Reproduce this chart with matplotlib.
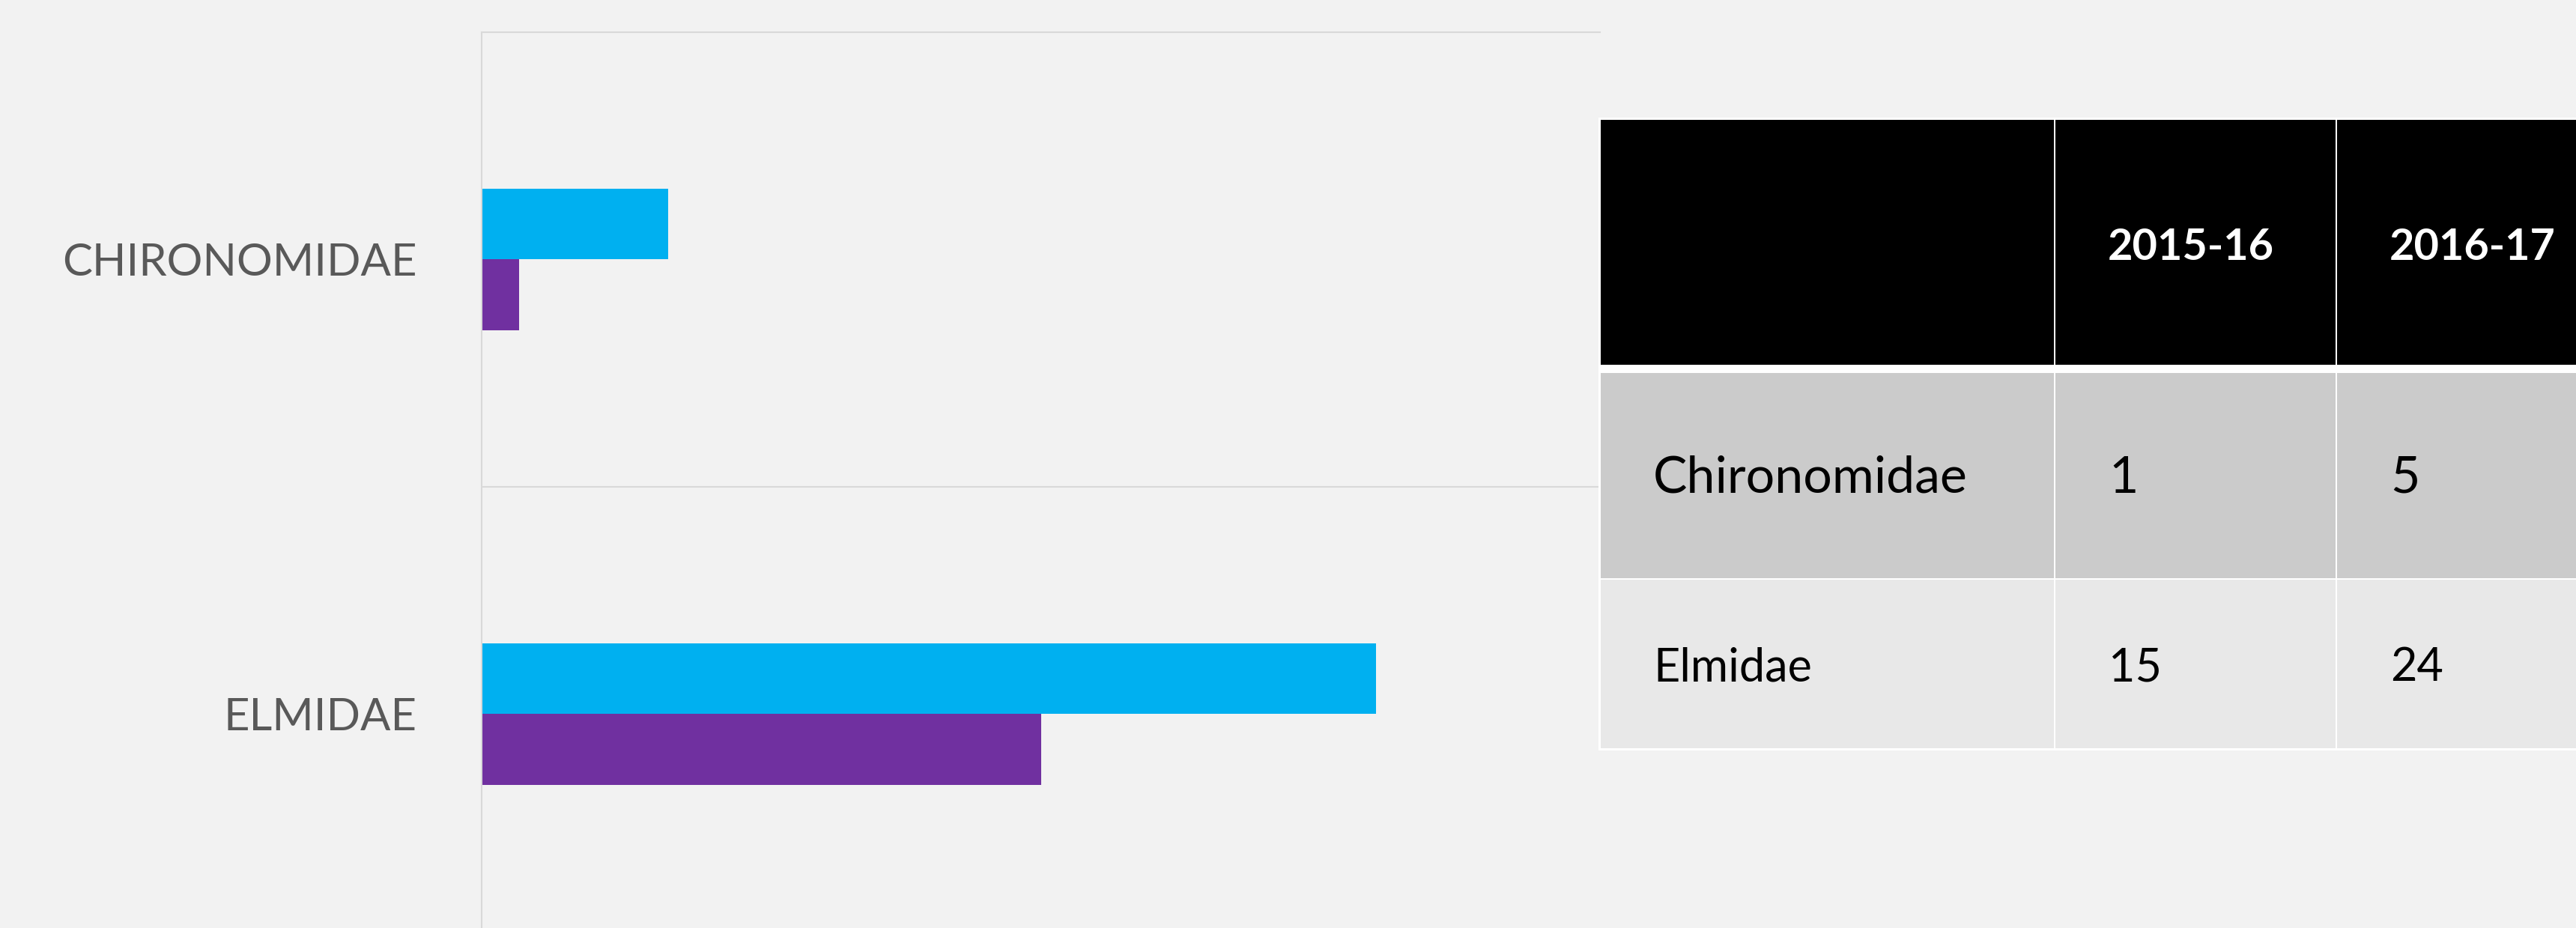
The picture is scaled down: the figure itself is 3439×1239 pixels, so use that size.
import numpy as np
import matplotlib.pyplot as plt
from matplotlib.patches import Rectangle

# data
families = ["CHIRONOMIDAE", "ELMIDAE"]
table_names = ["Chironomidae", "Elmidae"]
seasons = ["2015-16", "2016-17"]
counts_1516 = [1, 15]
counts_1617 = [5, 24]

BG = "#F2F2F2"
GRID = "#D9D9D9"
BLUE = "#00B0F0"
PURPLE = "#7030A0"
FONT = "Lato"

W, H = 3439, 1239
fig = plt.figure(figsize=(W / 100, H / 100), dpi=100, facecolor=BG)


def px(x0, y0, x1, y1):
    # figure-pixel box -> add_axes rect
    return [x0 / W, 1 - y1 / H, (x1 - x0) / W, (y1 - y0) / H]


# ---- bar chart ----
ax = fig.add_axes(px(643, 43, 2136, 1257))
ax.set_facecolor(BG)
y = np.arange(len(families))
bh = 0.155
ax.barh(y - bh / 2, counts_1617, height=bh, color=BLUE, label=seasons[1])
ax.barh(y + bh / 2, counts_1516, height=bh, color=PURPLE, label=seasons[0])
ax.set_xlim(0, 30)
ax.set_ylim(len(families) - 0.5, -0.5)
for b in np.arange(0.5, len(families) - 0.5):
    ax.axhline(b, color=GRID, lw=1.5, zorder=0)
for s in ("right", "bottom"):
    ax.spines[s].set_visible(False)
for s in ("top", "left"):
    ax.spines[s].set_color(GRID)
    ax.spines[s].set_linewidth(1.5)
ax.set_xticks([])
ax.set_yticks(y, families)
ax.tick_params(axis="y", length=0, pad=62, labelsize=43, labelcolor="#595959")
for t in ax.get_yticklabels():
    t.set_fontfamily(FONT)

# ---- data table (drawn in figure pixels) ----
tax = fig.add_axes([0, 0, 1, 1], zorder=5)
tax.set_xlim(0, W)
tax.set_ylim(H, 0)
tax.axis("off")

col_x = [2136, 2743, 3119, 3495]
row_y = [(159, 488), (497, 773), (773, 1000)]
row_fill = ["#000000", "#CBCBCB", "#E8E8E8"]

tax.add_patch(Rectangle((col_x[0] - 2, row_y[0][0] - 2), col_x[-1] - col_x[0] + 4,
                        row_y[-1][1] - row_y[0][0] + 4, color="white", lw=0))
for (y0, y1), fc in zip(row_y, row_fill):
    for x0, x1 in zip(col_x[:-1], col_x[1:]):
        tax.add_patch(Rectangle((x0 + 1, y0 + 1), x1 - x0 - 2, y1 - y0 - 2, color=fc, lw=0))

# header
for i, s in enumerate(seasons):
    tax.text(col_x[i + 1] + 71, 347, s, color="white", fontsize=41.5, fontweight="bold",
             family=FONT, va="baseline", ha="left")

# body rows
baselines = [658, 909]
sizes = [49, 44]
for r, name in enumerate(table_names):
    vals = [counts_1516[r], counts_1617[r]]
    tax.text(col_x[0] + 71, baselines[r], name, fontsize=sizes[r], family=FONT,
             color="black", va="baseline", ha="left")
    for i, v in enumerate(vals):
        tax.text(col_x[i + 1] + 72, baselines[r], str(v), fontsize=sizes[r], family=FONT,
                 color="black", va="baseline", ha="left")

fig.savefig("out.png", dpi=100, facecolor=BG)
